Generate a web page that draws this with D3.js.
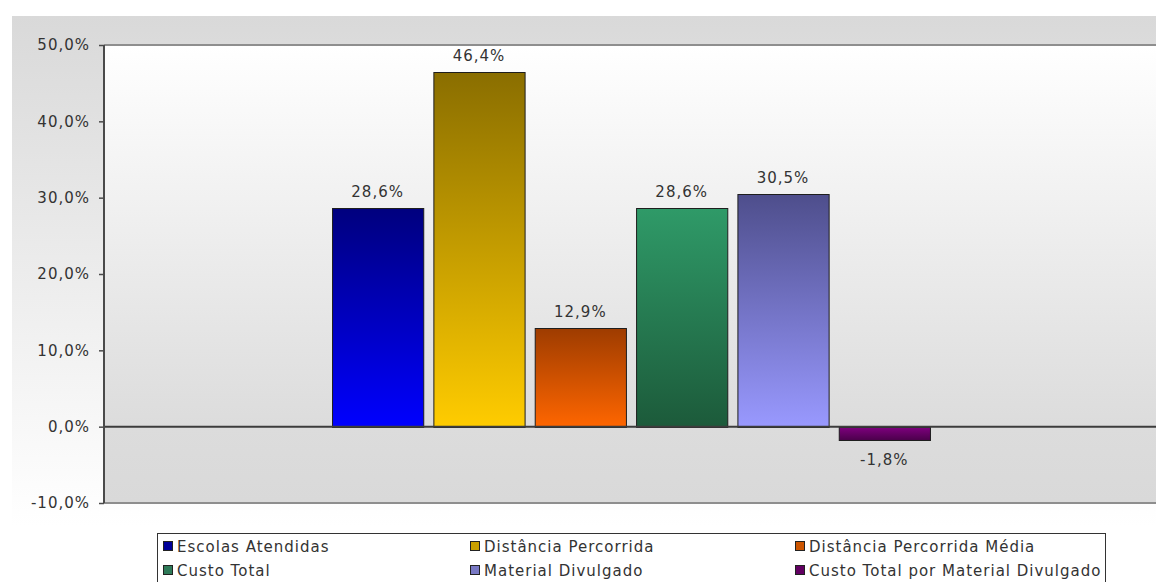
<!DOCTYPE html>
<html>
<head>
<meta charset="utf-8">
<script src="https://cdn.jsdelivr.net/npm/d3@7"></script>
<style>
  html, body { margin: 0; padding: 0; background: #fff; }
  svg { display: block; }
  text { font-family: "DejaVu Sans", Verdana, sans-serif; fill: #333; }
</style>
</head>
<body>
<svg id="chart" width="1156" height="582"></svg>
<script>
// Series names and their percentage change
const series = [
  "Escolas Atendidas",
  "Distância Percorrida",
  "Distância Percorrida Média",
  "Custo Total",
  "Material Divulgado",
  "Custo Total por Material Divulgado"
];
const values = [28.6, 46.4, 12.9, 28.6, 30.5, -1.8];
const valueLabels = ["28,6%", "46,4%", "12,9%", "28,6%", "30,5%", "-1,8%"];

// Axis ticks
const yTicks = [-10, 0, 10, 20, 30, 40, 50];
const yTickLabels = ["-10,0%", "0,0%", "10,0%", "20,0%", "30,0%", "40,0%", "50,0%"];

// Bar gradients (top colour, bottom colour) and legend swatch colours
const gradTop    = ["#00007e", "#8a6e00", "#9e3c00", "#2f9a68", "#4e4e8c", "#7d007d"];
const gradBottom = ["#0000ff", "#ffcc00", "#ff6600", "#1c5a3a", "#9999ff", "#4a004a"];
const swatch     = ["#00009a", "#c9a000", "#cc5500", "#2e7a58", "#7878c4", "#620062"];

const W = 1156, H = 582;
const plot = { left: 104, right: 1158, top: 45, bottom: 503 };
const FONT = 15, LS = "1px";

const svg = d3.select("#chart");
const defs = svg.append("defs");

// Outer panel gradient: grey at top fading to white
const pg = defs.append("linearGradient").attr("id", "panelGrad")
  .attr("x1", 0).attr("y1", 0).attr("x2", 0).attr("y2", 1);
pg.append("stop").attr("offset", "0%").attr("stop-color", "#d9d9d9");
pg.append("stop").attr("offset", "90%").attr("stop-color", "#ffffff");

// Plot area gradient: white at top to grey at the zero line
const y = d3.scaleLinear().domain([-10, 50]).range([plot.bottom, plot.top]);
const zeroFrac = (y(0) - plot.top) / (plot.bottom - plot.top);
const ag = defs.append("linearGradient").attr("id", "areaGrad")
  .attr("x1", 0).attr("y1", 0).attr("x2", 0).attr("y2", 1);
ag.append("stop").attr("offset", "0%").attr("stop-color", "#ffffff");
ag.append("stop").attr("offset", (zeroFrac * 100) + "%").attr("stop-color", "#dcdcdc");
ag.append("stop").attr("offset", "100%").attr("stop-color", "#d9d9d9");

series.forEach((s, i) => {
  const g = defs.append("linearGradient").attr("id", "bar" + i)
    .attr("x1", 0).attr("y1", 0).attr("x2", 0).attr("y2", 1);
  g.append("stop").attr("offset", "0%").attr("stop-color", gradTop[i]);
  g.append("stop").attr("offset", "100%").attr("stop-color", gradBottom[i]);
});

svg.append("rect").attr("x", 12).attr("y", 16).attr("width", W - 12).attr("height", H - 16)
  .attr("fill", "url(#panelGrad)");

svg.append("rect")
  .attr("x", plot.left).attr("y", plot.top)
  .attr("width", plot.right - plot.left).attr("height", plot.bottom - plot.top)
  .attr("fill", "url(#areaGrad)");

// Top and bottom borders of the plot area
[plot.top, plot.bottom].forEach(yy => {
  svg.append("line").attr("x1", plot.left).attr("x2", W)
    .attr("y1", yy).attr("y2", yy)
    .attr("stroke", "#8e8e8e").attr("stroke-width", 2);
});

const x = d3.scaleBand().domain(series)
  .range([plot.left, plot.right])
  .paddingInner(0.1).paddingOuter(2.25);

// Bars
svg.append("g").selectAll("rect").data(values).join("rect")
  .attr("x", (d, i) => x(series[i]) + 0.5)
  .attr("y", d => Math.round(y(Math.max(0, d))) + 0.5)
  .attr("width", x.bandwidth())
  .attr("height", d => Math.abs(Math.round(y(d)) - Math.round(y(0))))
  .attr("fill", (d, i) => `url(#bar${i})`)
  .attr("stroke", "#1e1e1e").attr("stroke-width", 1);

// Zero line
svg.append("line").attr("x1", plot.left).attr("x2", W)
  .attr("y1", y(0)).attr("y2", y(0))
  .attr("stroke", "#3c3c3c").attr("stroke-width", 2);

// Value labels
svg.append("g").selectAll("text").data(values).join("text")
  .attr("x", (d, i) => x(series[i]) + x.bandwidth() / 2)
  .attr("y", d => d >= 0 ? y(d) - 11 : y(d) + 25)
  .attr("text-anchor", "middle")
  .attr("font-size", FONT).attr("letter-spacing", LS)
  .text((d, i) => valueLabels[i]);

// Y axis
const axis = svg.append("g").attr("transform", `translate(${plot.left},0)`)
  .call(d3.axisLeft(y).tickValues(yTicks).tickSize(5).tickPadding(9)
    .tickFormat((d, i) => yTickLabels[i]));
axis.select(".domain").attr("stroke", "#4a4a4a").attr("stroke-width", 2)
  .attr("d", `M0,${plot.top}V${plot.bottom}`);
axis.selectAll(".tick line").attr("stroke", "#4a4a4a").attr("stroke-width", 1.5);
axis.selectAll(".tick text")
  .attr("font-family", '"DejaVu Sans", Verdana, sans-serif')
  .attr("font-size", FONT).attr("letter-spacing", LS).attr("fill", "#333");

// Legend
const legend = svg.append("g");
legend.append("rect").attr("x", 157.5).attr("y", 533.5)
  .attr("width", 948).attr("height", 60)
  .attr("fill", "#fff").attr("stroke", "#333").attr("stroke-width", 1);
const colX = [163, 470, 795];
const rowY = [546, 570];
series.forEach((s, i) => {
  const cx = colX[i % 3], cy = rowY[Math.floor(i / 3)];
  legend.append("rect").attr("x", cx + 0.5).attr("y", cy - 4.5)
    .attr("width", 9).attr("height", 9)
    .attr("fill", swatch[i]).attr("stroke", "#222").attr("stroke-width", 1);
  legend.append("text").attr("x", cx + 14).attr("y", cy + 5.5)
    .attr("font-size", FONT).attr("letter-spacing", LS)
    .text(s);
});
</script>
</body>
</html>
